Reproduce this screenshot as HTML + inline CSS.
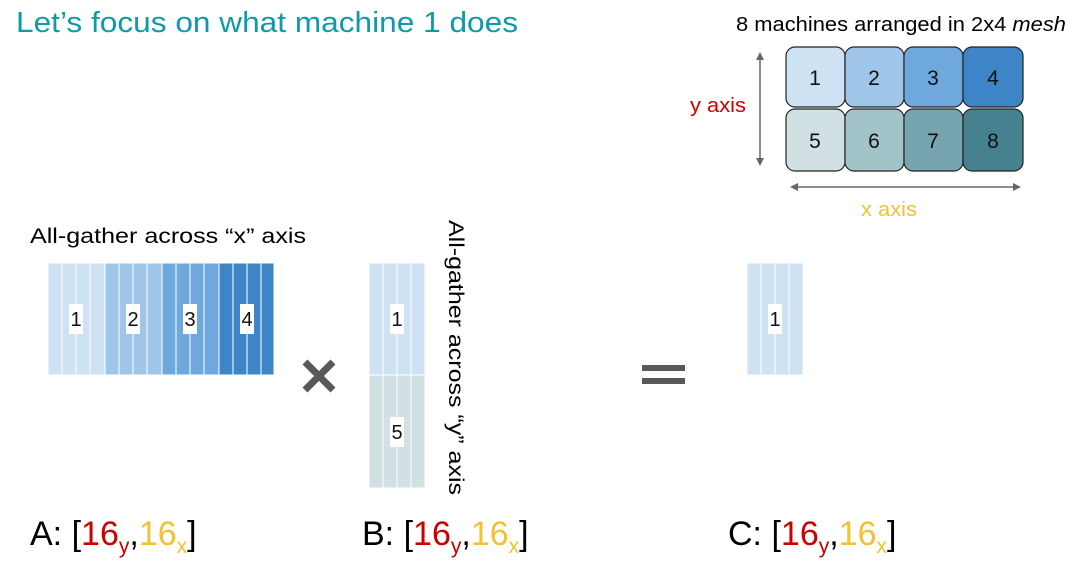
<!DOCTYPE html>
<html><head><meta charset="utf-8"><style>
body{margin:0;background:#fff;}
svg{display:block;font-family:"Liberation Sans",sans-serif;}
</style></head><body>
<svg width="1080" height="572" viewBox="0 0 1080 572" xmlns="http://www.w3.org/2000/svg">
<defs>
<marker id="ah" markerWidth="8" markerHeight="8" refX="6" refY="4" orient="auto-start-reverse" markerUnits="userSpaceOnUse"><path d="M0,0 L8,4 L0,8 Z" fill="#666"/></marker>
</defs>
<text x="16" y="32" font-size="29" fill="#0e9aa7" textLength="502" lengthAdjust="spacingAndGlyphs">Let’s focus on what machine 1 does</text>
<text x="736" y="31" font-size="20" fill="#000" textLength="330" lengthAdjust="spacingAndGlyphs">8 machines arranged in 2x4 <tspan font-style="italic">mesh</tspan></text>
<!-- mesh -->
<g stroke="#222" stroke-width="1.2">
<rect x="786" y="47" width="59" height="60" rx="9" fill="#cfe2f3"/>
<rect x="845" y="47" width="59" height="60" rx="9" fill="#9fc5e8"/>
<rect x="904" y="47" width="59" height="60" rx="9" fill="#6fa8dc"/>
<rect x="963" y="47" width="60" height="60" rx="9" fill="#3d85c6"/>
<rect x="786" y="109" width="59" height="62" rx="9" fill="#d0e0e3"/>
<rect x="845" y="109" width="59" height="62" rx="9" fill="#a2c4c9"/>
<rect x="904" y="109" width="59" height="62" rx="9" fill="#76a5af"/>
<rect x="963" y="109" width="60" height="62" rx="9" fill="#45818e"/>
</g>
<g font-size="21" text-anchor="middle" fill="#111">
<text x="815" y="85">1</text><text x="874" y="85">2</text><text x="933" y="85">3</text><text x="993" y="85">4</text>
<text x="815" y="148">5</text><text x="874" y="148">6</text><text x="933" y="148">7</text><text x="993" y="148">8</text>
</g>
<line x1="760" y1="54" x2="760" y2="164" stroke="#666" stroke-width="1.5" marker-start="url(#ah)" marker-end="url(#ah)"/>
<line x1="792" y1="187" x2="1019" y2="187" stroke="#666" stroke-width="1.5" marker-start="url(#ah)" marker-end="url(#ah)"/>
<text x="690" y="112" font-size="20" fill="#cc0000" textLength="56" lengthAdjust="spacingAndGlyphs">y axis</text>
<text x="861" y="216" font-size="20" fill="#f1c232" textLength="56" lengthAdjust="spacingAndGlyphs">x axis</text>
<!-- A -->
<text x="30" y="243" font-size="21" fill="#000" textLength="276" lengthAdjust="spacingAndGlyphs">All-gather across “x” axis</text>
<g stroke="#fff" stroke-width="1">
<rect x="48" y="263" width="57" height="112" fill="#cfe2f3"/>
<rect x="105" y="263" width="57" height="112" fill="#9fc5e8"/>
<rect x="162" y="263" width="57" height="112" fill="#6fa8dc"/>
<rect x="219" y="263" width="55" height="112" fill="#3d85c6"/>
<path d="M62,263V375M76,263V375M90,263V375M105,263V375M119,263V375M133,263V375M147,263V375M162,263V375M176,263V375M190,263V375M204,263V375M219,263V375M233,263V375M247,263V375M261,263V375"/>
</g>
<g fill="#fff"><rect x="69" y="304" width="14" height="30"/><rect x="126" y="304" width="14" height="30"/><rect x="183" y="304" width="14" height="30"/><rect x="240" y="304" width="14" height="30"/></g>
<g font-size="20" text-anchor="middle" fill="#111"><text x="76" y="326">1</text><text x="133" y="326">2</text><text x="190" y="326">3</text><text x="247" y="326">4</text></g>
<!-- times -->
<path d="M305,362 L333,390 M333,362 L305,390" stroke="#595959" stroke-width="7"/>
<!-- B -->
<g stroke="#fff" stroke-width="1">
<rect x="369" y="263" width="56" height="112" fill="#cfe2f3"/>
<rect x="369" y="375" width="56" height="113" fill="#d0e0e3"/>
<path d="M383,263V488M397,263V488M411,263V488"/>
</g>
<g fill="#fff"><rect x="390" y="304" width="14" height="30"/><rect x="390" y="417" width="14" height="30"/></g>
<g font-size="20" text-anchor="middle" fill="#111"><text x="397" y="326">1</text><text x="397" y="439">5</text></g>
<text transform="translate(449,220) rotate(90)" font-size="21" fill="#000" textLength="275" lengthAdjust="spacingAndGlyphs">All-gather across “y” axis</text>
<!-- equals -->
<path d="M642,368H685M642,381H685" stroke="#595959" stroke-width="6"/>
<!-- C -->
<g stroke="#fff" stroke-width="1">
<rect x="747" y="263" width="56" height="112" fill="#cfe2f3"/>
<path d="M761,263V375M775,263V375M789,263V375"/>
</g>
<rect x="768" y="304" width="14" height="30" fill="#fff"/>
<text x="775" y="326" font-size="20" text-anchor="middle" fill="#111">1</text>
<!-- labels -->
<g font-size="34" fill="#000">
<text x="30" y="545">A: [<tspan fill="#cc0000">16</tspan><tspan fill="#cc0000" font-size="21" dy="8">y</tspan><tspan dy="-8">,</tspan><tspan fill="#f1c232">16</tspan><tspan fill="#f1c232" font-size="21" dy="8">x</tspan><tspan dy="-8">]</tspan></text>
<text x="362" y="545">B: [<tspan fill="#cc0000">16</tspan><tspan fill="#cc0000" font-size="21" dy="8">y</tspan><tspan dy="-8">,</tspan><tspan fill="#f1c232">16</tspan><tspan fill="#f1c232" font-size="21" dy="8">x</tspan><tspan dy="-8">]</tspan></text>
<text x="728" y="545">C: [<tspan fill="#cc0000">16</tspan><tspan fill="#cc0000" font-size="21" dy="8">y</tspan><tspan dy="-8">,</tspan><tspan fill="#f1c232">16</tspan><tspan fill="#f1c232" font-size="21" dy="8">x</tspan><tspan dy="-8">]</tspan></text>
</g>
</svg>
</body></html>
